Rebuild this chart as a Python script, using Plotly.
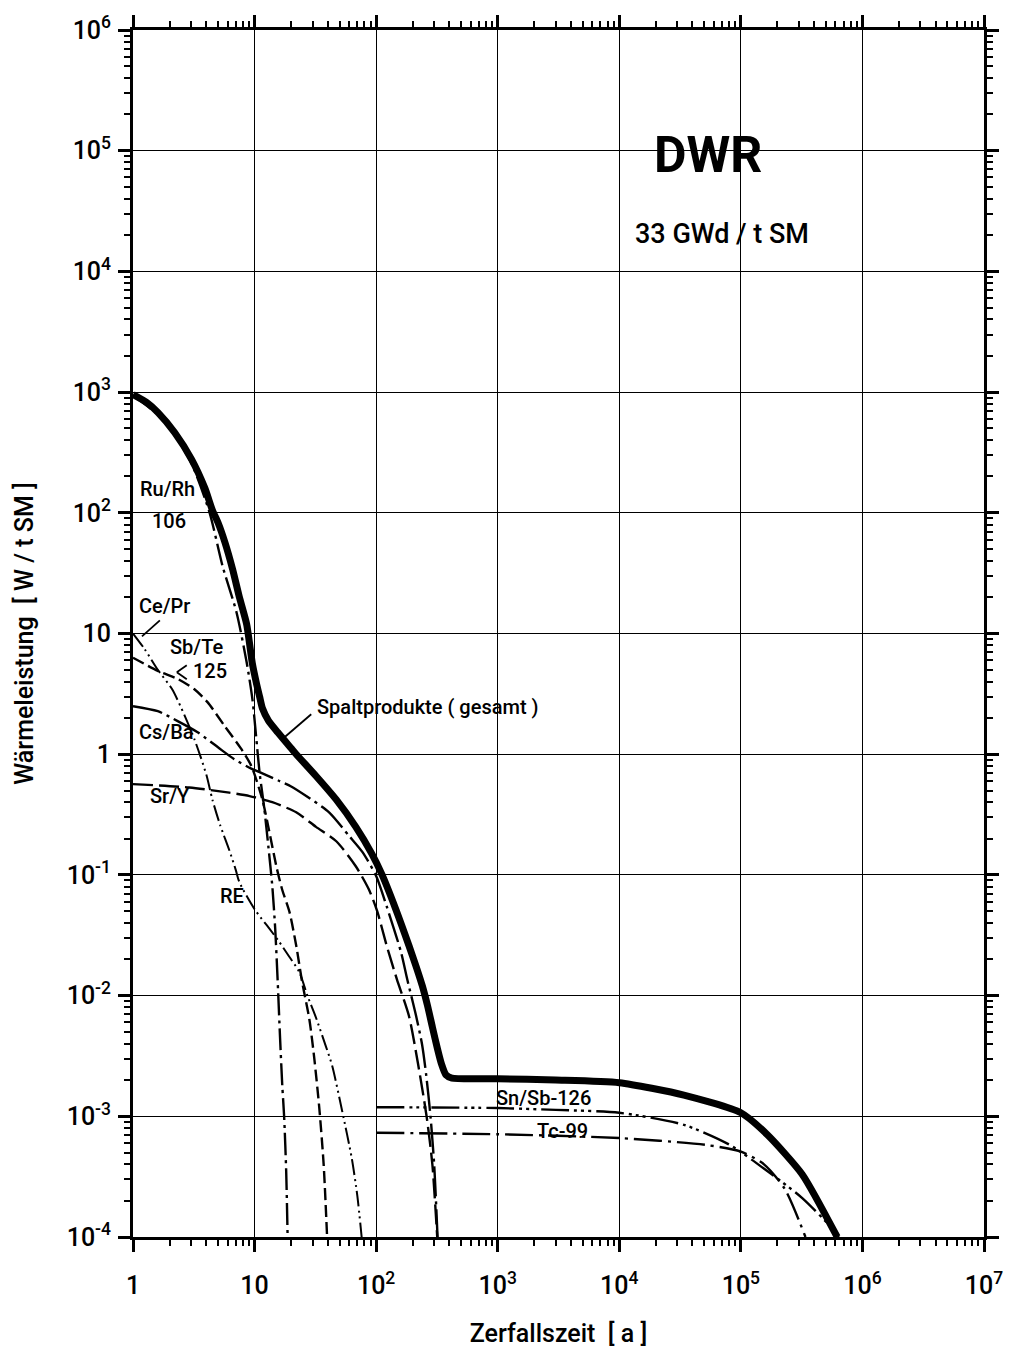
import plotly.graph_objects as go

# ---- data: decay heat of fission products, DWR 33 GWd/t SM ----
years_total = [1, 1.3, 1.6, 2.2, 3.04, 3.9, 4.5, 5.0, 5.7, 6.6, 7.5, 8.6, 9.6, 10.4, 11.0,
               11.6, 13, 15.5, 20, 22, 32, 47, 68, 92, 112, 145, 186, 215, 240, 265, 290,
               320, 345, 375, 420, 1000, 3000, 1e4, 3.4e4, 1e5, 1.66e5, 3.2e5, 6.2e5]
heat_total = [955, 820, 680, 463, 276, 160, 105, 83, 57, 34, 20, 12, 5.6, 3.8, 3.0,
              2.4, 1.9, 1.52, 1.12, 1.0, 0.66, 0.42, 0.25, 0.15, 0.10, 0.052, 0.026,
              0.017, 0.012, 0.0082, 0.0055, 0.0036, 0.0027, 0.0022, 0.00207, 0.00205,
              0.002, 0.0019, 0.0015, 0.00107, 7e-4, 3.3e-4, 1e-4]

years_rurh = [1, 1.6, 2.2, 3.04, 4.27, 5.46, 7.1, 8.6, 9.6, 10.3, 11.0, 12.0, 13.0, 14.0,
              14.8, 15.5, 16.2, 16.9, 17.5, 18.2, 18.7]
heat_rurh = [930, 650, 440, 255, 100, 36, 15, 5.8, 2.85, 1.4, 0.7, 0.36, 0.17, 0.08,
             0.035, 0.013, 0.0045, 0.0018, 0.001, 3.5e-4, 1e-4]

years_cepr = [1, 1.25, 1.6, 2.1, 2.67, 3.2, 3.6, 4.04, 4.5, 5.2, 6.2, 7.0, 7.5, 10, 13.2,
              15.9, 19.3, 23.3, 27.2, 31.6, 38.6, 43.6, 52.6, 63, 70, 76]
heat_cepr = [10, 7.4, 5.0, 3.45, 2.07, 1.33, 0.95, 0.66, 0.42, 0.26, 0.16, 0.11, 0.087,
             0.052, 0.036, 0.028, 0.021, 0.0157, 0.010, 0.0068, 0.0038, 0.0026, 0.0011,
             4.5e-4, 2.2e-4, 1e-4]

years_sbte = [1, 1.6, 2.33, 3.2, 4.1, 5.7, 7.8, 9.4, 11.6, 13.2, 15.1, 16.9, 19.3, 22,
              24.6, 28.2, 31, 34, 37, 39.5]
heat_sbte = [6.3, 4.9, 4.2, 3.45, 2.7, 1.7, 1.1, 0.8, 0.42, 0.23, 0.118, 0.075, 0.05,
             0.026, 0.013, 0.0064, 0.003, 0.0012, 4e-4, 1e-4]

years_csba = [1, 1.6, 2.33, 3.4, 5.0, 6.8, 9.4, 11, 16, 20, 26.6, 41, 60, 77, 100, 122,
              160, 180, 213, 239, 258, 280, 300, 320]
heat_csba = [2.5, 2.27, 1.88, 1.52, 1.14, 0.91, 0.76, 0.71, 0.6, 0.54, 0.45, 0.33, 0.21,
             0.155, 0.098, 0.055, 0.023, 0.0137, 0.0068, 0.0039, 0.0022, 0.001, 4e-4, 1e-4]

years_sry = [1, 2.9, 6.2, 9.1, 14, 22, 32, 47, 68, 87, 102, 122, 148, 186, 220, 260, 290, 318]
heat_sry = [0.565, 0.53, 0.48, 0.45, 0.40, 0.33, 0.25, 0.19, 0.118, 0.076, 0.05, 0.026,
            0.0137, 0.0068, 0.0028, 0.001, 4e-4, 1e-4]

years_snsb = [100, 1000, 3000, 1e4, 3.4e4, 8.1e4, 1.66e5, 3.2e5, 6e5, 6.4e5]
heat_snsb = [1.19e-3, 1.17e-3, 1.13e-3, 1.07e-3, 8.5e-4, 5.8e-4, 3.5e-4, 2.1e-4, 1.1e-4, 1e-4]

years_tc = [100, 1000, 1e4, 5.1e4, 1e5, 1.55e5, 2.3e5, 3.4e5]
heat_tc = [7.3e-4, 7.1e-4, 6.6e-4, 5.8e-4, 5.1e-4, 4e-4, 2.5e-4, 1e-4]

x_tickvals = [1, 10, 1e2, 1e3, 1e4, 1e5, 1e6, 1e7]
x_ticktext = ["1", "10", "10<sup>2</sup>", "10<sup>3</sup>", "10<sup>4</sup>",
              "10<sup>5</sup>", "10<sup>6</sup>", "10<sup>7</sup>"]
y_tickvals = [1e-4, 1e-3, 1e-2, 1e-1, 1, 10, 1e2, 1e3, 1e4, 1e5, 1e6]
y_ticktext = ["10<sup>-4</sup>", "10<sup>-3</sup>", "10<sup>-2</sup>", "10<sup>-1</sup>",
              "1", "10", "10<sup>2</sup>", "10<sup>3</sup>", "10<sup>4</sup>",
              "10<sup>5</sup>", "10<sup>6</sup>"]

FONT = "Roboto, Liberation Sans, Arial, sans-serif"

series = [
    (years_sry, heat_sry, "Sr/Y", "20px,6px", 2.4),
    (years_csba, heat_csba, "Cs/Ba", "30px,5px,3px,5px", 2.4),
    (years_sbte, heat_sbte, "Sb/Te-125", "12px,5px", 2.4),
    (years_cepr, heat_cepr, "Ce/Pr, RE", "16px,4px,2px,4px,2px,4px", 2.0),
    (years_rurh, heat_rurh, "Ru/Rh-106", "22px,5px,3px,5px", 2.4),
    (years_snsb, heat_snsb, "Sn/Sb-126", "28px,5px,3px,4px,3px,4px,3px,5px", 2.4),
    (years_tc, heat_tc, "Tc-99", "28px,6px,3px,6px", 2.4),
]

fig = go.Figure()
for xs, ys, name, dash, w in series:
    fig.add_trace(go.Scatter(x=xs, y=ys, mode="lines", name=name,
                             line=dict(color="black", width=w, dash=dash,
                                       shape="spline", smoothing=0.7)))
fig.add_trace(go.Scatter(x=years_total, y=heat_total, mode="lines",
                         name="Spaltprodukte (gesamt)",
                         line=dict(color="black", width=7, shape="spline", smoothing=0.6)))


def lx(px):
    """pixel column -> log10 of the x value"""
    return (px - 133) / 122.1


def ly(py):
    """pixel row -> log10 of the y value"""
    return (755 - py) / 120.8


labels = [
    ("Ru/Rh", 138, 490), ("106", 150, 522), ("Ce/Pr", 137, 607),
    ("Sb/Te", 168, 648), ("125", 191, 672), ("Cs/Ba", 137, 733),
    ("Sr/Y", 148, 797), ("RE", 218, 897),
    ("Spaltprodukte ( gesamt )", 316, 708),
    ("Sn/Sb-126", 496, 1099), ("Tc-99", 537, 1132),
]
for text, px, py in labels:
    fig.add_annotation(x=lx(px), y=ly(py), xref="x", yref="y", text=text,
                       showarrow=False, xanchor="left", yanchor="middle",
                       font=dict(family=FONT, size=20, color="black", weight=500))

# leader lines from labels to curves
leaders = [((160, 621), (142, 637)), ((312, 715), (284, 739)),
           ((187, 666), (177, 673)), ((177, 673), (187, 680))]
for (x0, y0), (x1, y1) in leaders:
    fig.add_trace(go.Scatter(x=[10 ** lx(x0), 10 ** lx(x1)], y=[10 ** ly(y0), 10 ** ly(y1)],
                             mode="lines", line=dict(color="black", width=1.8),
                             hoverinfo="skip"))

fig.add_annotation(x=lx(710), y=ly(155), xref="x", yref="y", text="<b>DWR</b>",
                   showarrow=False, font=dict(family=FONT, size=50, color="black"))
fig.add_annotation(x=lx(725), y=ly(234), xref="x", yref="y", text="33 GWd / t SM",
                   showarrow=False, font=dict(family=FONT, size=27, color="black", weight=500))

axis_common = dict(
    type="log", showline=True, linecolor="black", linewidth=3, mirror="allticks",
    ticks="outside", ticklen=12, tickwidth=2.5, tickcolor="black",
    showgrid=True, gridcolor="black", gridwidth=1, zeroline=False,
    minor=dict(ticks="outside", ticklen=6, tickwidth=2, tickcolor="black",
               dtick="D1", showgrid=False),
    tickfont=dict(family=FONT, size=25, color="black", weight=500),
)

fig.update_xaxes(range=[0, 7], tickvals=x_tickvals, ticktext=x_ticktext,
                 ticklabelstandoff=12,
                 title=dict(text="Zerfallszeit  [ a ]", standoff=26,
                            font=dict(family=FONT, size=25, color="black", weight=500)),
                 **axis_common)
fig.update_yaxes(range=[-4, 6], tickvals=y_tickvals, ticktext=y_ticktext,
                 ticklabelstandoff=2,
                 title=dict(text="Wärmeleistung  [ W / t SM ]", standoff=26,
                            font=dict(family=FONT, size=25, color="black", weight=500)),
                 **axis_common)

fig.update_layout(width=1015, height=1356, showlegend=False,
                  paper_bgcolor="white", plot_bgcolor="white",
                  margin=dict(l=133, r=27, t=30, b=118))

fig.write_html("out.html")
